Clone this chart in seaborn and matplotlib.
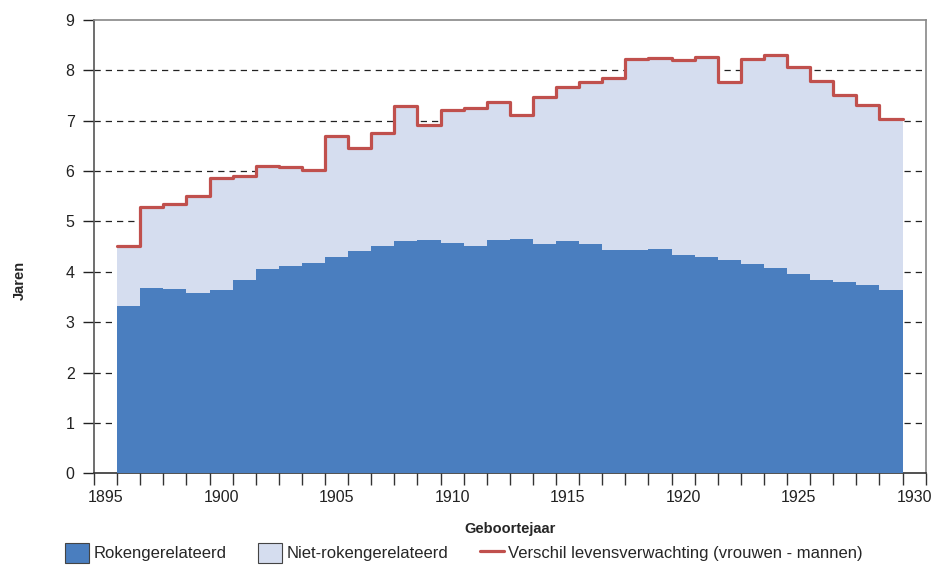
import numpy as np
import pandas as pd
import matplotlib
matplotlib.use("Agg")
import matplotlib.pyplot as plt
import seaborn as sns
from matplotlib.patches import Patch
from matplotlib.lines import Line2D

# Geboortejaren (cohorten) en waarden in jaren
years = list(range(1896, 1930))
total_gap = [4.52, 5.29, 5.34, 5.50, 5.87, 5.90, 6.11, 6.08, 6.02, 6.69,
             6.45, 6.76, 7.29, 6.92, 7.22, 7.25, 7.38, 7.12, 7.47, 7.66,
             7.77, 7.85, 8.23, 8.24, 8.20, 8.26, 7.77, 8.23, 8.30, 8.07,
             7.79, 7.52, 7.32, 7.04]
smoking_part = [3.32, 3.67, 3.66, 3.57, 3.64, 3.84, 4.05, 4.11, 4.18, 4.29,
                4.41, 4.51, 4.61, 4.64, 4.57, 4.51, 4.63, 4.66, 4.55, 4.62,
                4.55, 4.43, 4.43, 4.45, 4.34, 4.29, 4.23, 4.16, 4.08, 3.96,
                3.84, 3.79, 3.73, 3.63]
label_years = [1895, 1900, 1905, 1910, 1915, 1920, 1925, 1930]
y_ticks = list(range(0, 10))

legend_labels = ["Rokengerelateerd", "Niet-rokengerelateerd",
                 "Verschil levensverwachting (vrouwen - mannen)"]

BLUE = "#4a7ebf"
LIGHT = "#d5ddef"
RED = "#c0504d"

sns.set_style("white")
plt.rcParams["font.family"] = ["Liberation Sans", "DejaVu Sans"]

df = pd.DataFrame({"jaar": years, "totaal": total_gap, "roken": smoking_part})

# step line runs from the left edge of the first bar to the right edge of the last
edges = np.append(df["jaar"].values - 0.5, df["jaar"].values[-1] + 0.5)
step_df = pd.DataFrame({"x": edges, "y": np.append(df["totaal"].values, df["totaal"].values[-1])})

fig = plt.figure(figsize=(9.44, 5.69), dpi=100)
ax = fig.add_axes([0.0996, 0.1682, 0.8810, 0.7967])

# grid behind the bars
ax.set_axisbelow(True)
for v in y_ticks[1:-1]:
    ax.axhline(v, color="#222222", lw=0.9, ls=(0, (5, 4)), zorder=0)

sns.barplot(data=df, x="jaar", y="totaal", native_scale=True, width=1,
            color=LIGHT, saturation=1, errorbar=None, linewidth=0, ax=ax, zorder=2)
sns.barplot(data=df, x="jaar", y="roken", native_scale=True, width=1,
            color=BLUE, saturation=1, errorbar=None, linewidth=0, ax=ax, zorder=3)
sns.lineplot(data=step_df, x="x", y="y", drawstyle="steps-post", color=RED,
             lw=2.3, ax=ax, zorder=4)

ax.set_xlim(label_years[0] - 0.5, label_years[-1] + 0.5)
ax.set_ylim(0, 9)
ax.set_yticks(y_ticks)
ax.set_xticks(label_years)
ax.set_xticks(np.arange(label_years[0] - 0.5, label_years[-1] + 1, 1), minor=True)
ax.tick_params(axis="x", which="major", length=0, pad=12, labelsize=11.5, colors="#222222")
ax.tick_params(axis="x", which="minor", length=8.5, width=1, color="#333333", direction="out")
ax.tick_params(axis="y", which="major", length=8, width=1, pad=6, labelsize=11.5,
               color="#222222", labelcolor="#222222", direction="out", left=True)
ax.tick_params(axis="x", which="both", bottom=True)

for side in ["top", "right"]:
    ax.spines[side].set_visible(True)
    ax.spines[side].set_color("#888888")
    ax.spines[side].set_linewidth(1.2)
ax.spines["left"].set_color("#555555")
ax.spines["left"].set_linewidth(1.2)
ax.spines["bottom"].set_color("#333333")
ax.spines["bottom"].set_linewidth(1.2)

ax.set_xlabel("Geboortejaar", fontsize=10.5, fontweight="bold")
ax.set_ylabel("Jaren", fontsize=10.5, fontweight="bold")
ax.yaxis.set_label_coords(-0.0814, 0.426)
ax.xaxis.set_label_coords(0.5, -0.107)

handles = [Patch(facecolor=BLUE, edgecolor="#444444", lw=0.8),
           Patch(facecolor=LIGHT, edgecolor="#444444", lw=0.8),
           Line2D([0], [0], color=RED, lw=2.3)]
fig.legend(handles, legend_labels, loc="lower left", bbox_to_anchor=(0.0689, 0.011),
           ncol=3, frameon=False, fontsize=12, handlelength=1.45, handleheight=1.45,
           handletextpad=0.25, columnspacing=1.9, borderpad=0, borderaxespad=0)

fig.savefig("out.png", dpi=100)
